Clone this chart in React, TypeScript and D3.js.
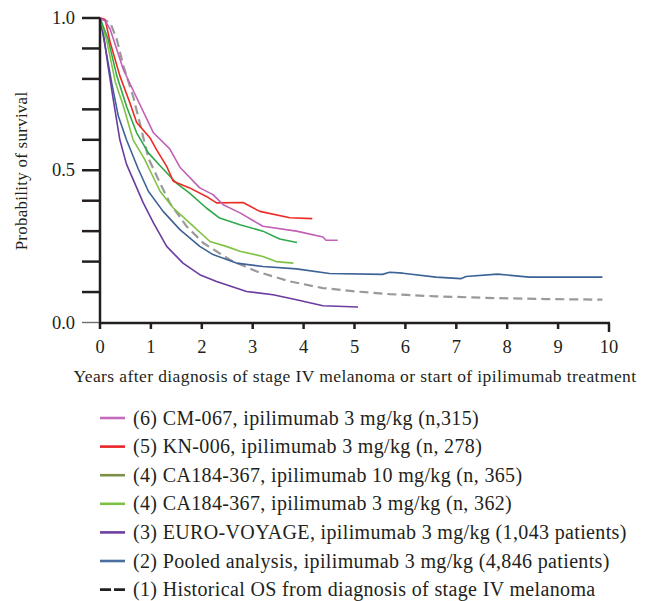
import React, { useEffect, useRef } from "react";
import * as d3 from "d3";

// survival curves: [years, probability]
const cm067 = [[0, 1], [0.1, 0.99], [0.2, 0.963], [0.46, 0.83], [0.72, 0.738], [1.05, 0.623], [1.37, 0.57], [1.57, 0.51], [1.96, 0.442], [2.22, 0.42], [2.42, 0.387], [2.75, 0.36], [3.2, 0.316], [3.86, 0.3], [4.38, 0.281], [4.44, 0.27], [4.67, 0.27]];
const kn006 = [[0, 1], [0.1, 0.995], [0.2, 0.92], [0.39, 0.81], [0.59, 0.72], [0.72, 0.657], [0.98, 0.607], [1.11, 0.568], [1.31, 0.513], [1.44, 0.464], [1.76, 0.442], [2.09, 0.414], [2.29, 0.393], [2.81, 0.394], [3.14, 0.365], [3.73, 0.344], [4.17, 0.341]];
const ca10 = [[0, 1], [0.16, 0.93], [0.33, 0.81], [0.52, 0.71], [0.72, 0.623], [0.95, 0.557], [1.18, 0.515], [1.5, 0.458], [1.76, 0.425], [2.09, 0.376], [2.35, 0.343], [2.75, 0.321], [3.2, 0.3], [3.53, 0.274], [3.87, 0.263]];
const ca3 = [[0, 1], [0.14, 0.92], [0.3, 0.79], [0.46, 0.71], [0.65, 0.6], [0.88, 0.535], [0.98, 0.5], [1.18, 0.431], [1.44, 0.376], [1.76, 0.327], [2.16, 0.266], [2.48, 0.25], [2.75, 0.234], [3.2, 0.217], [3.46, 0.2], [3.8, 0.195]];
const euroVoyage = [[0, 1], [0.065, 0.95], [0.16, 0.84], [0.26, 0.733], [0.39, 0.6], [0.52, 0.52], [0.65, 0.47], [0.85, 0.393], [1.05, 0.327], [1.31, 0.25], [1.63, 0.195], [1.96, 0.157], [2.29, 0.135], [2.88, 0.102], [3.4, 0.091], [3.86, 0.075], [4.38, 0.055], [5.07, 0.051]];
const pooled = [[0, 1], [0.1, 0.908], [0.23, 0.787], [0.36, 0.678], [0.52, 0.6], [0.75, 0.505], [0.95, 0.431], [1.24, 0.365], [1.57, 0.305], [1.96, 0.25], [2.22, 0.223], [2.68, 0.195], [3.2, 0.184], [3.86, 0.176], [4.51, 0.161], [5.55, 0.158], [5.69, 0.165], [5.95, 0.162], [6.6, 0.149], [7.09, 0.144], [7.19, 0.151], [7.81, 0.159], [8.43, 0.149], [9.87, 0.149]];
const historical = [[0, 1], [0.2, 0.985], [0.33, 0.93], [0.46, 0.842], [0.65, 0.743], [0.78, 0.656], [0.95, 0.54], [1.18, 0.458], [1.37, 0.393], [1.7, 0.316], [2.03, 0.261], [2.55, 0.206], [3.07, 0.168], [3.73, 0.135], [4.38, 0.113], [5.03, 0.102], [5.69, 0.093], [6.6, 0.086], [7.78, 0.08], [8.76, 0.077], [9.87, 0.075]];

const legendLabels = [
  "(6) CM-067, ipilimumab 3 mg/kg (n,315)",
  "(5) KN-006, ipilimumab 3 mg/kg (n, 278)",
  "(4) CA184-367, ipilimumab 10 mg/kg (n, 365)",
  "(4) CA184-367, ipilimumab 3 mg/kg (n, 362)",
  "(3) EURO-VOYAGE, ipilimumab 3 mg/kg (1,043 patients)",
  "(2) Pooled analysis, ipilimumab 3 mg/kg (4,846 patients)",
  "(1) Historical OS from diagnosis of stage IV melanoma",
];
const xTicks = [0, 1, 2, 3, 4, 5, 6, 7, 8, 9, 10];
const yTicks = [0, 0.1, 0.2, 0.3, 0.4, 0.5, 0.6, 0.7, 0.8, 0.9, 1.0];
const yLabels = [0, 0.5, 1.0];

const FONT = "'Liberation Serif', 'DejaVu Serif', serif";
const INK = "#231f20";

export default function App() {
  const ref = useRef<SVGSVGElement>(null);

  useEffect(() => {
    const width = 648;
    const height = 601;
    const svg = d3.select(ref.current).attr("width", width).attr("height", height);
    svg.selectAll("*").remove();

    const x = d3.scaleLinear().domain([0, 10]).range([100, 609]);
    const y = d3.scaleLinear().domain([0, 1]).range([322.5, 18]);

    const series = [
      { data: historical, color: "#9a9a9a", dash: "9,5", width: 2.2 },
      { data: pooled, color: "#3d6296", dash: null, width: 1.6 },
      { data: euroVoyage, color: "#6a3c9f", dash: null, width: 1.6 },
      { data: ca3, color: "#80c244", dash: null, width: 1.6 },
      { data: ca10, color: "#2fa84a", dash: null, width: 1.6 },
      { data: kn006, color: "#ee2a24", dash: null, width: 1.6 },
      { data: cm067, color: "#c160b6", dash: null, width: 1.6 },
    ];

    const line = d3
      .line<number[]>()
      .x((d) => x(d[0]))
      .y((d) => y(d[1]));

    svg
      .selectAll(".curve")
      .data(series)
      .join("path")
      .attr("class", "curve")
      .attr("d", (d) => line(d.data))
      .attr("fill", "none")
      .attr("stroke", (d) => d.color)
      .attr("stroke-width", (d) => d.width)
      .attr("stroke-dasharray", (d) => d.dash)
      .attr("stroke-linejoin", "round");

    // y axis
    svg
      .append("line")
      .attr("x1", x(0))
      .attr("x2", x(0))
      .attr("y1", y(1))
      .attr("y2", y(0) + 1)
      .attr("stroke", INK)
      .attr("stroke-width", 2.5);
    svg
      .selectAll(".ytick")
      .data(yTicks)
      .join("line")
      .attr("class", "ytick")
      .attr("x1", x(0) - 18)
      .attr("x2", x(0))
      .attr("y1", (d) => y(d))
      .attr("y2", (d) => y(d))
      .attr("stroke", (d) => (d === 0 ? "#6d6d6d" : INK))
      .attr("stroke-width", (d) => (d === 0 ? 1.4 : 2.5));
    svg
      .selectAll(".ylab")
      .data(yLabels)
      .join("text")
      .attr("class", "ylab")
      .attr("x", 75)
      .attr("y", (d) => y(d) + 6)
      .attr("text-anchor", "end")
      .attr("font-family", FONT)
      .attr("font-size", 18.5)
      .attr("fill", INK)
      .text((d) => d3.format(".1f")(d));

    // x axis
    svg
      .append("line")
      .attr("x1", x(0) - 1)
      .attr("x2", x(10) + 1)
      .attr("y1", 323)
      .attr("y2", 323)
      .attr("stroke", INK)
      .attr("stroke-width", 2.5);
    svg
      .selectAll(".xtick")
      .data(xTicks)
      .join("line")
      .attr("class", "xtick")
      .attr("x1", (d) => x(d))
      .attr("x2", (d) => x(d))
      .attr("y1", 323)
      .attr("y2", (d) => (d === 10 ? 332 : 329))
      .attr("stroke", INK)
      .attr("stroke-width", 2.5);
    svg
      .selectAll(".xlab")
      .data(xTicks)
      .join("text")
      .attr("class", "xlab")
      .attr("x", (d) => x(d))
      .attr("y", 353)
      .attr("text-anchor", "middle")
      .attr("font-family", FONT)
      .attr("font-size", 18.5)
      .attr("fill", INK)
      .text((d) => String(d));

    svg
      .append("text")
      .attr("x", 355)
      .attr("y", 382)
      .attr("text-anchor", "middle")
      .attr("font-family", FONT)
      .attr("font-size", 17.5)
      .attr("letter-spacing", 0.4)
      .attr("fill", INK)
      .text("Years after diagnosis of stage IV melanoma or start of ipilimumab treatment");

    svg
      .append("text")
      .attr("transform", `translate(27, ${171}) rotate(-90)`)
      .attr("text-anchor", "middle")
      .attr("font-family", FONT)
      .attr("font-size", 17)
      .attr("letter-spacing", 0.25)
      .attr("fill", INK)
      .text("Probability of survival");

    // legend
    const legendSwatch = ["#c46bbd", "#e8242a", "#7d8f48", "#7cc143", "#6b3fa0", "#4a6e9f", "#231f20"];
    const rows = legendLabels.map((label, i) => ({ label, color: legendSwatch[i], dashed: i === 6 }));
    const lg = svg.append("g").attr("transform", "translate(100, 418)");
    const row = lg
      .selectAll(".lrow")
      .data(rows)
      .join("g")
      .attr("class", "lrow")
      .attr("transform", (_, i) => `translate(0, ${i * 28.6})`);
    row
      .append("line")
      .attr("x1", 0)
      .attr("x2", 25)
      .attr("y1", 0)
      .attr("y2", 0)
      .attr("stroke", (d) => d.color)
      .attr("stroke-width", 2.6)
      .attr("stroke-dasharray", (d) => (d.dashed ? "11,3" : null));
    row
      .append("text")
      .attr("x", 33)
      .attr("y", 6.5)
      .attr("font-family", FONT)
      .attr("font-size", 20)
      .attr("letter-spacing", 0.35)
      .attr("fill", INK)
      .text((d) => d.label);
  }, []);

  return <svg ref={ref} style={{ position: "absolute", left: 0, top: 0, background: "#fff" }} />;
}
